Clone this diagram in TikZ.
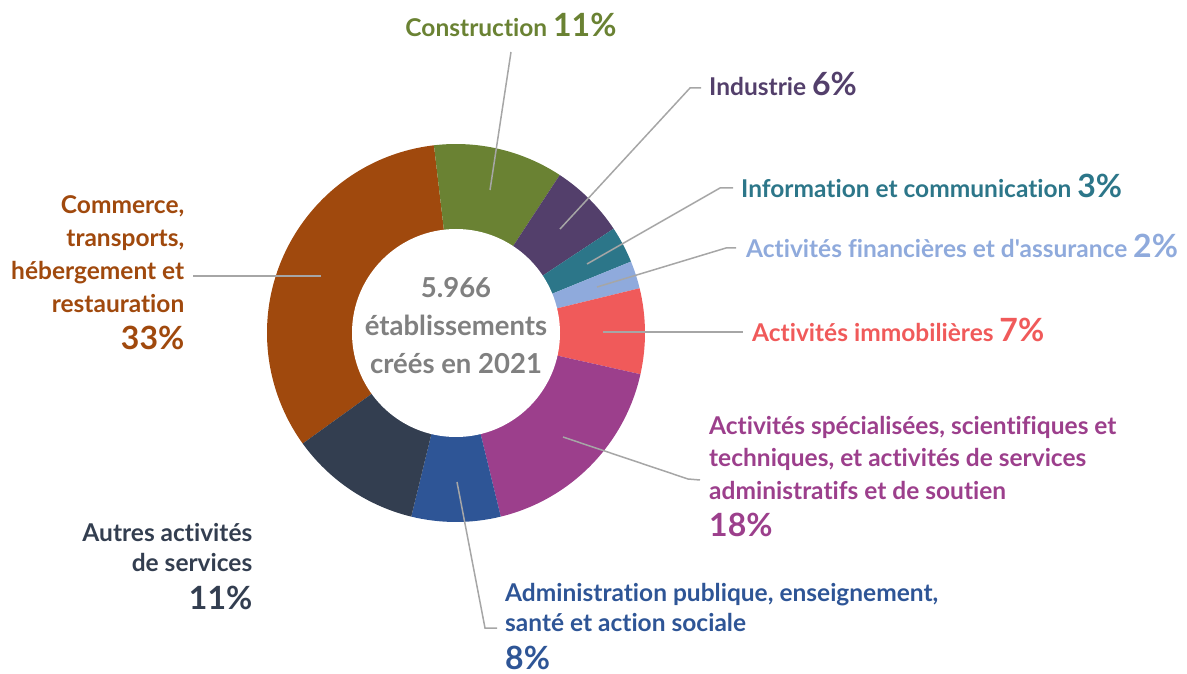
\documentclass[tikz,border=0pt]{standalone}
\usepackage{fontspec}
\setmainfont{Lato}[Ligatures={CommonOff,TeXOff}]
\usetikzlibrary{positioning}
\definecolor{cCommerce}{HTML}{A0490D}
\definecolor{cConstr}{HTML}{6A8233}
\definecolor{cIndus}{HTML}{533F6B}
\definecolor{cInfo}{HTML}{2C7689}
\definecolor{cFin}{HTML}{8FAADC}
\definecolor{cImmo}{HTML}{F05A5A}
\definecolor{cSpec}{HTML}{9C3F8C}
\definecolor{cAdmin}{HTML}{2E5596}
\definecolor{cAutres}{HTML}{333E50}
\definecolor{leadgray}{HTML}{A6A6A6}
\definecolor{centregray}{HTML}{808080}
\newcommand{\pct}[1]{{\fontsize{32}{32}\selectfont #1\%}}

\begin{document}
\begin{tikzpicture}[x=1pt,y=1pt,
    lbl/.style={font=\bfseries\fontsize{24.5}{32.5}\selectfont, inner sep=0pt},
    leader/.style={draw=leadgray, line width=1.5pt}]
    \useasboundingbox (0,0) rectangle (1187,673);
    \coordinate (C) at (456,340);
    % anneau
    \foreach \a/\b/\c in {96.7/215.8/cCommerce, 56.7/96.7/cConstr, 33.5/56.7/cIndus,
        22.2/33.5/cInfo, 13.7/22.2/cFin, -12.6/13.7/cImmo, -76.3/-12.6/cSpec,
        -103.7/-76.3/cAdmin, -144.2/-103.7/cAutres}
        \fill[\c] (C) -- ([shift={(\a:189)}]C) arc[start angle=\a, end angle=\b, radius=189] -- cycle;
    \fill[white] (C) circle[radius=104];
    \node[font=\bfseries\fontsize{27.5}{38}\selectfont, text=centregray, align=center] (centre)
        at ([yshift=7]C) {5.966\\établissements\\créés en 2021};
    % lignes de rappel
    \coordinate (sConstr) at (490,483);
    \coordinate (eConstr) at (511,621);
    \coordinate (sIndus) at (560,444);
    \coordinate (kIndus) at (690,585);
    \coordinate (eIndus) at (701,585);
    \coordinate (sInfo) at (587,409);
    \coordinate (kInfo) at (720,485);
    \coordinate (eInfo) at (733,485);
    \coordinate (sFin) at (597,386);
    \coordinate (kFin) at (726,425);
    \coordinate (eFin) at (736,425);
    \coordinate (sImmo) at (603,341);
    \coordinate (eImmo) at (743,341);
    \coordinate (sSpec) at (563,236);
    \coordinate (kSpec) at (688,194);
    \coordinate (eSpec) at (700,193);
    \coordinate (sAdmin) at (457,191);
    \coordinate (kAdmin) at (485,45);
    \coordinate (eAdmin) at (497,45);
    \coordinate (sComm) at (321,397);
    \coordinate (eComm) at (193,397);
    \draw[leader] (sConstr) -- (eConstr);
    \draw[leader] (sIndus) -- (kIndus) -- (eIndus);
    \draw[leader] (sInfo) -- (kInfo) -- (eInfo);
    \draw[leader] (sFin) -- (kFin) -- (eFin);
    \draw[leader] (sImmo) -- (eImmo);
    \draw[leader] (sSpec) -- (kSpec) -- (eSpec);
    \draw[leader] (sAdmin) -- (kAdmin) -- (eAdmin);
    \draw[leader] (sComm) -- (eComm);
    % etiquettes
    \node[lbl, text=cConstr, above=15pt of eConstr] (lConstr) {Construction \pct{11}};
    \node[lbl, text=cIndus, anchor=base west] (lIndus) at ([xshift=8pt, yshift=-8pt]eIndus) {Industrie \pct{6}};
    \node[lbl, text=cInfo, anchor=base west] (lInfo) at ([xshift=8pt, yshift=-10pt]eInfo) {Information et communication \pct{3}};
    \node[lbl, text=cFin, anchor=base west] (lFin) at ([xshift=10pt, yshift=-10pt]eFin) {Activités financières et d'assurance \pct{2}};
    \node[lbl, text=cImmo, anchor=base west] (lImmo) at ([xshift=9pt, yshift=-10pt]eImmo) {Activités immobilières \pct{7}};
    \node[lbl, text=cSpec, align=left, anchor=north west] (lSpec) at (709,257)
        {Activités spécialisées, scientifiques et\\techniques, et activités de services\\administratifs et de soutien\\[4.5pt]\pct{18}};
    \node[lbl, text=cAdmin, align=left, anchor=north west, font=\bfseries\fontsize{24.5}{30.5}\selectfont] (lAdmin) at (505,90)
        {Administration publique, enseignement,\\santé et action sociale\\[7.5pt]\pct{8}};
    \node[lbl, text=cAutres, align=right, anchor=north east, font=\bfseries\fontsize{24.5}{30.5}\selectfont] (lAutres) at (252.5,150)
        {Autres activités\\de services\\[7.5pt]\pct{11}};
    \node[lbl, text=cCommerce, align=right, anchor=north east, font=\bfseries\fontsize{24.5}{33}\selectfont] (lComm) at (184.5,478)
        {Commerce,\\transports,\\hébergement et\\restauration\\[4pt]\pct{33}};
\end{tikzpicture}
\end{document}
